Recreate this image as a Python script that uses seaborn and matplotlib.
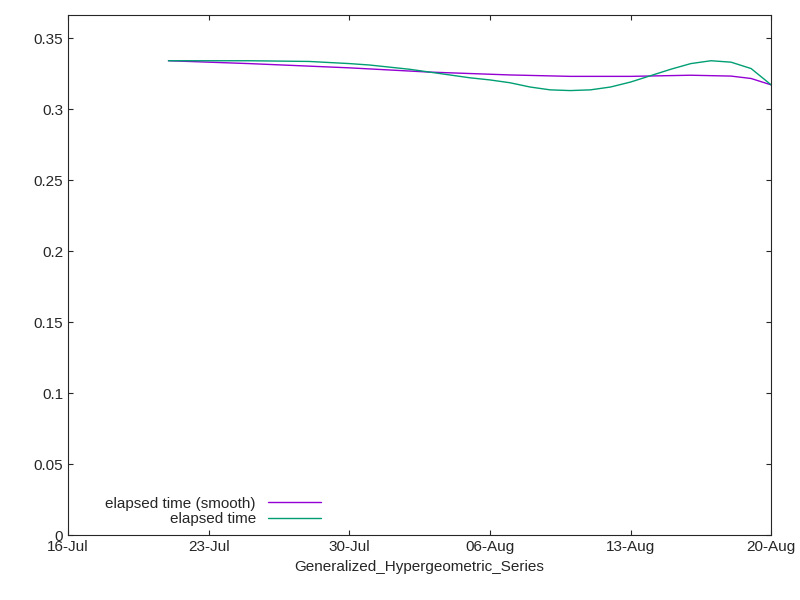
import numpy as np
import matplotlib.pyplot as plt
import matplotlib.dates as mdates
import pandas as pd
import seaborn as sns

sns.set_style("ticks")
plt.rcParams['font.family'] = ['Liberation Sans', 'DejaVu Sans']

smooth = pd.DataFrame({
    'date': pd.to_datetime(['2023-07-21', '2023-07-25', '2023-07-30', '2023-08-03', '2023-08-07',
                            '2023-08-10', '2023-08-13', '2023-08-16', '2023-08-18', '2023-08-19', '2023-08-20']),
    'value': [0.334, 0.332, 0.329, 0.326, 0.324, 0.323, 0.323, 0.3238, 0.3232, 0.3215, 0.317]})
raw = pd.DataFrame({
    'date': pd.to_datetime(['2023-07-21', '2023-07-25', '2023-07-28', '2023-07-30', '2023-07-31',
                            '2023-08-01', '2023-08-02', '2023-08-03', '2023-08-04', '2023-08-05',
                            '2023-08-06', '2023-08-07', '2023-08-08', '2023-08-09', '2023-08-10',
                            '2023-08-11', '2023-08-12', '2023-08-13', '2023-08-14', '2023-08-15',
                            '2023-08-16', '2023-08-17', '2023-08-18', '2023-08-19', '2023-08-20']),
    'value': [0.334, 0.334, 0.3335, 0.332, 0.331, 0.3295, 0.328, 0.326, 0.324, 0.322,
              0.3205, 0.3185, 0.3155, 0.3135, 0.313, 0.3135, 0.3155, 0.319, 0.3235, 0.328,
              0.332, 0.334, 0.333, 0.3285, 0.317]})

fig, ax = plt.subplots(figsize=(8, 6), dpi=100)
fig.subplots_adjust(left=0.085, right=0.964, top=0.975, bottom=0.108)
sns.lineplot(x='date', y='value', data=smooth, color='#9400d3', linewidth=1, label='elapsed time (smooth)', ax=ax)
sns.lineplot(x='date', y='value', data=raw, color='#009e73', linewidth=1, label='elapsed time', ax=ax)

ax.set_xlim(pd.Timestamp('2023-07-16'), pd.Timestamp('2023-08-20'))
ax.set_ylim(0, 0.3662)
ax.set_yticks(np.arange(0, 0.36, 0.05))
ax.set_yticklabels(['0', '0.05', '0.1', '0.15', '0.2', '0.25', '0.3', '0.35'])
ax.set_xticks(pd.to_datetime(['2023-07-16', '2023-07-23', '2023-07-30', '2023-08-06', '2023-08-13', '2023-08-20']))
ax.xaxis.set_major_formatter(mdates.DateFormatter('%d-%b'))
ax.tick_params(direction='in', top=True, right=True, labelsize=11)
ax.set_xlabel("Generalized_Hypergeometric_Series", fontsize=11)
ax.set_ylabel("")
ax.legend(loc='lower left', markerfirst=False, frameon=False, fontsize=11, handlelength=3.5,
          borderaxespad=0.2, labelspacing=0.1, bbox_to_anchor=(0.04, 0.0))
for t in ax.get_legend().get_texts():
    t.set_ha('right')
ax.get_legend()._legend_box.align = 'right'

plt.savefig('out.png')
